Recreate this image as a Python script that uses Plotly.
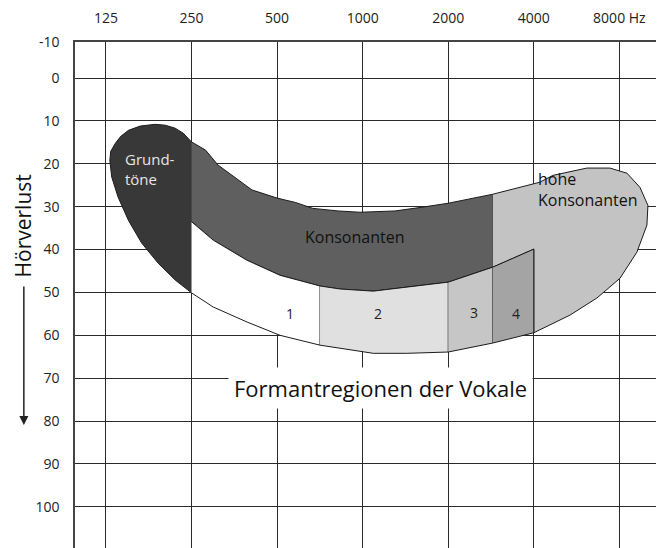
import math
import plotly.graph_objects as go

FREQ_TICKS = [125, 250, 500, 1000, 2000, 4000, 8000]
FREQ_LABELS = ["125", "250", "500", "1000", "2000", "4000", "8000 Hz"]
DB_TICKS = [-10, 0, 10, 20, 30, 40, 50, 60, 70, 80, 90, 100]

# Grundtöne: Kontur ab 250 Hz oben, links herum bis 250 Hz unten
GRUND_HZ = [250, 234, 219, 202, 186, 165, 150, 141, 135, 130, 129, 130, 131, 138, 150, 167, 191, 219, 250]
GRUND_DB = [14.9, 12.9, 11.7, 11.0, 10.8, 11.2, 12.2, 13.6, 15.2, 17.1, 19.2, 21.0, 23.1, 27.8, 33.2,
            38.5, 43.2, 47.1, 50.1]

# Konsonanten-Band: Ober- und Unterkante
KONS_OBEN_HZ = [250, 280, 310, 356, 408, 500, 579, 668, 820, 979, 1300, 1630, 2000, 2870]
KONS_OBEN_DB = [14.9, 16.8, 20.3, 23.3, 26.1, 28.0, 29.0, 30.4, 31.0, 31.3, 31.0, 30.1, 29.2, 27.1]
KONS_UNTEN_HZ = [250, 298, 392, 512, 708, 833, 1090, 1430, 2000, 2870]
KONS_UNTEN_DB = [33.5, 37.8, 42.5, 46.0, 48.5, 49.2, 49.7, 48.8, 47.6, 44.1]

# hohe Konsonanten: Außenkontur von 2870 Hz oben bis 4000 Hz unten
HOCH_HZ = [2870, 4200, 4670, 6150, 7410, 8510, 9450, 10080, 10000, 9220, 8040, 6670, 5360, 4000]
HOCH_DB = [27.1, 24.3, 22.7, 21.0, 21.0, 22.2, 25.5, 29.7, 34.3, 40.6, 46.7, 51.3, 55.3, 59.4]

# Unterkante der Vokalregionen
VOKAL_UNTEN_HZ = [250, 298, 392, 512, 708, 833, 1090, 1430, 2000, 2870, 4000]
VOKAL_UNTEN_DB = [50.1, 53.4, 56.9, 60.0, 62.3, 63.0, 64.2, 64.2, 63.9, 61.8, 59.4]

# Grenzen der Formantregionen 1-4
VOKAL_GRENZEN_HZ = [250, 708, 2000, 2870, 4000]
VOKAL4_OBEN_DB = 39.9
VOKAL_LABELS = ["1", "2", "3", "4"]
VOKAL_LABEL_HZ = [557, 1134, 2465, 3460]
VOKAL_LABEL_DB = [54.8, 54.8, 54.6, 54.8]

FONT = "Open Sans"


def slice_curve(hz, db, lo, hi):
    pts = [(f, d) for f, d in zip(hz, db) if lo <= f <= hi]
    return [p[0] for p in pts], [p[1] for p in pts]


def area(fig, x, y, color):
    fig.add_trace(go.Scatter(
        x=x, y=y, mode="lines", fill="toself", fillcolor=color,
        line=dict(color="#1c1c1c", width=1),
        hoverinfo="skip", showlegend=False
    ))


def draw_speech_banana():
    fig = go.Figure()

    area(fig, GRUND_HZ, GRUND_DB, "#383838")
    area(fig, KONS_OBEN_HZ + KONS_UNTEN_HZ[::-1], KONS_OBEN_DB + KONS_UNTEN_DB[::-1], "#5f5f5f")
    area(fig, HOCH_HZ + [4000, KONS_UNTEN_HZ[-1]], HOCH_DB + [VOKAL4_OBEN_DB, KONS_UNTEN_DB[-1]], "#c3c3c3")

    top_hz = KONS_UNTEN_HZ + [4000]
    top_db = KONS_UNTEN_DB + [VOKAL4_OBEN_DB]
    colors = ["#ffffff", "#e0e0e0", "#c6c6c6", "#a4a4a4"]
    for i in range(4):
        lo, hi = VOKAL_GRENZEN_HZ[i], VOKAL_GRENZEN_HZ[i + 1]
        tx, ty = slice_curve(top_hz, top_db, lo, hi)
        bx, by = slice_curve(VOKAL_UNTEN_HZ, VOKAL_UNTEN_DB, lo, hi)
        area(fig, tx + bx[::-1], ty + by[::-1], colors[i])

    for lab, f, d in zip(VOKAL_LABELS, VOKAL_LABEL_HZ, VOKAL_LABEL_DB):
        fig.add_annotation(x=math.log10(f), y=d, text=lab, showarrow=False,
                           font=dict(family=FONT, size=14, color="#222"))

    fig.add_annotation(x=math.log10(143), y=21.3, text="Grund-<br>töne", showarrow=False,
                       xanchor="left", align="left",
                       font=dict(family=FONT, size=15, color="#e6e6e6"))
    fig.add_annotation(x=math.log10(941), y=37.1, text="Konsonanten", showarrow=False,
                       font=dict(family=FONT, size=16, color="#111"))
    fig.add_annotation(x=math.log10(4080), y=26.0, text="hohe<br>Konsonanten", showarrow=False,
                       xanchor="left", align="left",
                       font=dict(family=FONT, size=16, color="#111"))
    fig.add_annotation(x=math.log10(1151), y=72.3, text="Formantregionen der Vokale",
                       showarrow=False, bgcolor="white", borderpad=5,
                       font=dict(family=FONT, size=22, color="#111"))

    # Achsenbeschriftung links mit Pfeil
    fig.add_annotation(xref="paper", yref="paper", x=-0.088, y=0.636, text="Hörverlust",
                       textangle=-90, showarrow=False, xanchor="center", yanchor="middle",
                       font=dict(family=FONT, size=21, color="#111"))
    fig.add_annotation(xref="paper", yref="paper", x=-0.087, y=0.243, ax=0, ay=-140,
                       text="", showarrow=True, arrowhead=2, arrowsize=1.2,
                       arrowwidth=1.5, arrowcolor="#222")

    # die Seite hat 8 px Rand, daher ist die Figur etwas kleiner
    y_top = -8.4
    fig.update_layout(
        width=656, height=540,
        margin=dict(l=67, r=1, t=34, b=0),
        paper_bgcolor="white", plot_bgcolor="white",
        xaxis=dict(
            type="log", side="top", automargin=False,
            range=[math.log10(97.3), math.log10(11390)],
            tickvals=FREQ_TICKS, ticktext=FREQ_LABELS,
            showgrid=True, gridcolor="#2a2a2a", gridwidth=1,
            showline=True, mirror=True, linecolor="#444", linewidth=1.5,
            zeroline=False, ticks="", ticklabelstandoff=12,
            tickfont=dict(family=FONT, size=14, color="#222")
        ),
        yaxis=dict(
            range=[109.6, y_top], automargin=False,
            tickvals=[y_top] + DB_TICKS[1:], ticktext=[str(v) for v in DB_TICKS],
            showgrid=True, gridcolor="#2a2a2a", gridwidth=1,
            showline=True, mirror=True, linecolor="#444", linewidth=1.5,
            zeroline=False, ticks="", ticklabelstandoff=11,
            tickfont=dict(family=FONT, size=14, color="#222")
        )
    )
    return fig


fig = draw_speech_banana()
fig.write_html("out.html")
